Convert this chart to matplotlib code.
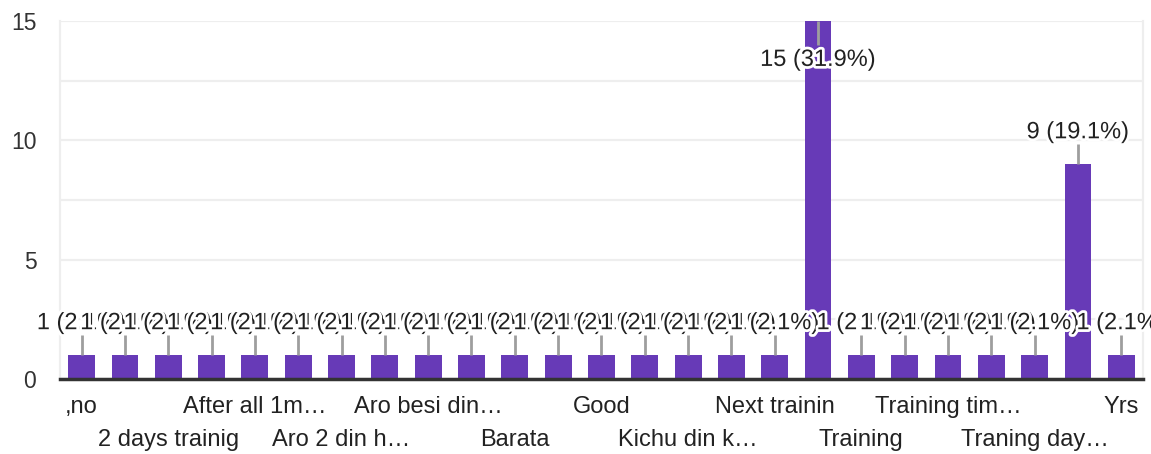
import matplotlib.pyplot as plt
import matplotlib.patheffects as pe
from matplotlib.ticker import MultipleLocator

plt.rcParams['font.family'] = ['Liberation Sans', 'DejaVu Sans']

# Answers (sorted), only every second name is printed on the axis
categories = [",no", "1 week", "2 days trainig", "3 days", "After all 1m…",
              "Aro", "Aro 2 din h…", "Aro besi", "Aro besi din…", "Bara",
              "Barata", "Bhalo", "Good", "Hmm", "Kichu din k…", "Na",
              "Next trainin", "No", "Training", "Training din", "Training tim…",
              "Training time", "Traning day…", "Yes", "Yrs"]
counts = [1, 1, 1, 1, 1, 1, 1, 1, 1, 1, 1, 1, 1, 1, 1, 1, 1, 15, 1, 1, 1, 1, 1, 9, 1]
total = sum(counts)

fig = plt.figure(figsize=(11.51, 4.54), dpi=100)
ax = fig.add_axes([0.0521, 0.1652, 0.9409, 0.7885])

x = list(range(len(categories)))
ax.bar(x, counts, width=0.62, color="#673ab7", zorder=3)

ax.set_xlim(-0.5, len(categories) - 0.5)
ax.set_ylim(0, 15)
ax.yaxis.set_major_locator(MultipleLocator(5))
ax.yaxis.set_minor_locator(MultipleLocator(2.5))
ax.grid(axis="y", which="both", color="#eeeeee", lw=1.6, zorder=0)
ax.tick_params(axis="y", which="both", length=0, pad=17, labelsize=16.5, labelcolor="#333333")

shown = [i for i in x if i % 2 == 0]
ax.set_xticks(shown)
ax.set_xticklabels([categories[i] for i in shown], fontsize=17, color="#222222")
ax.tick_params(axis="x", length=0)
for k, t in enumerate(ax.xaxis.get_major_ticks()):
    t.set_pad(12.5 if k % 2 == 0 else 36)

ax.spines["top"].set_visible(False)
ax.spines["left"].set_color("#eeeeee")
ax.spines["right"].set_color("#eeeeee")
ax.spines["left"].set_linewidth(1.6)
ax.spines["right"].set_linewidth(1.6)
ax.spines["bottom"].set_color("#333333")
ax.spines["bottom"].set_linewidth(2.5)
ax.spines["bottom"].set_zorder(4)

# value labels with leader lines
halo = [pe.withStroke(linewidth=4, foreground="white")]
for i, v in enumerate(counts):
    label = f"{v} ({v / total * 100:.1f}%)"
    if v >= 14:
        off, lead = -28, -1.0
    else:
        off, lead = 23, 0.85
    ax.vlines(i, v, v + lead, color="#9e9e9e", lw=2, zorder=4, clip_on=False)
    ax.annotate(label, xy=(i, v), xytext=(0, off), textcoords="offset points",
                ha="center", va="center", fontsize=17, color="#212121",
                path_effects=halo, zorder=5, annotation_clip=False)

fig.savefig("out.png", dpi=100)
